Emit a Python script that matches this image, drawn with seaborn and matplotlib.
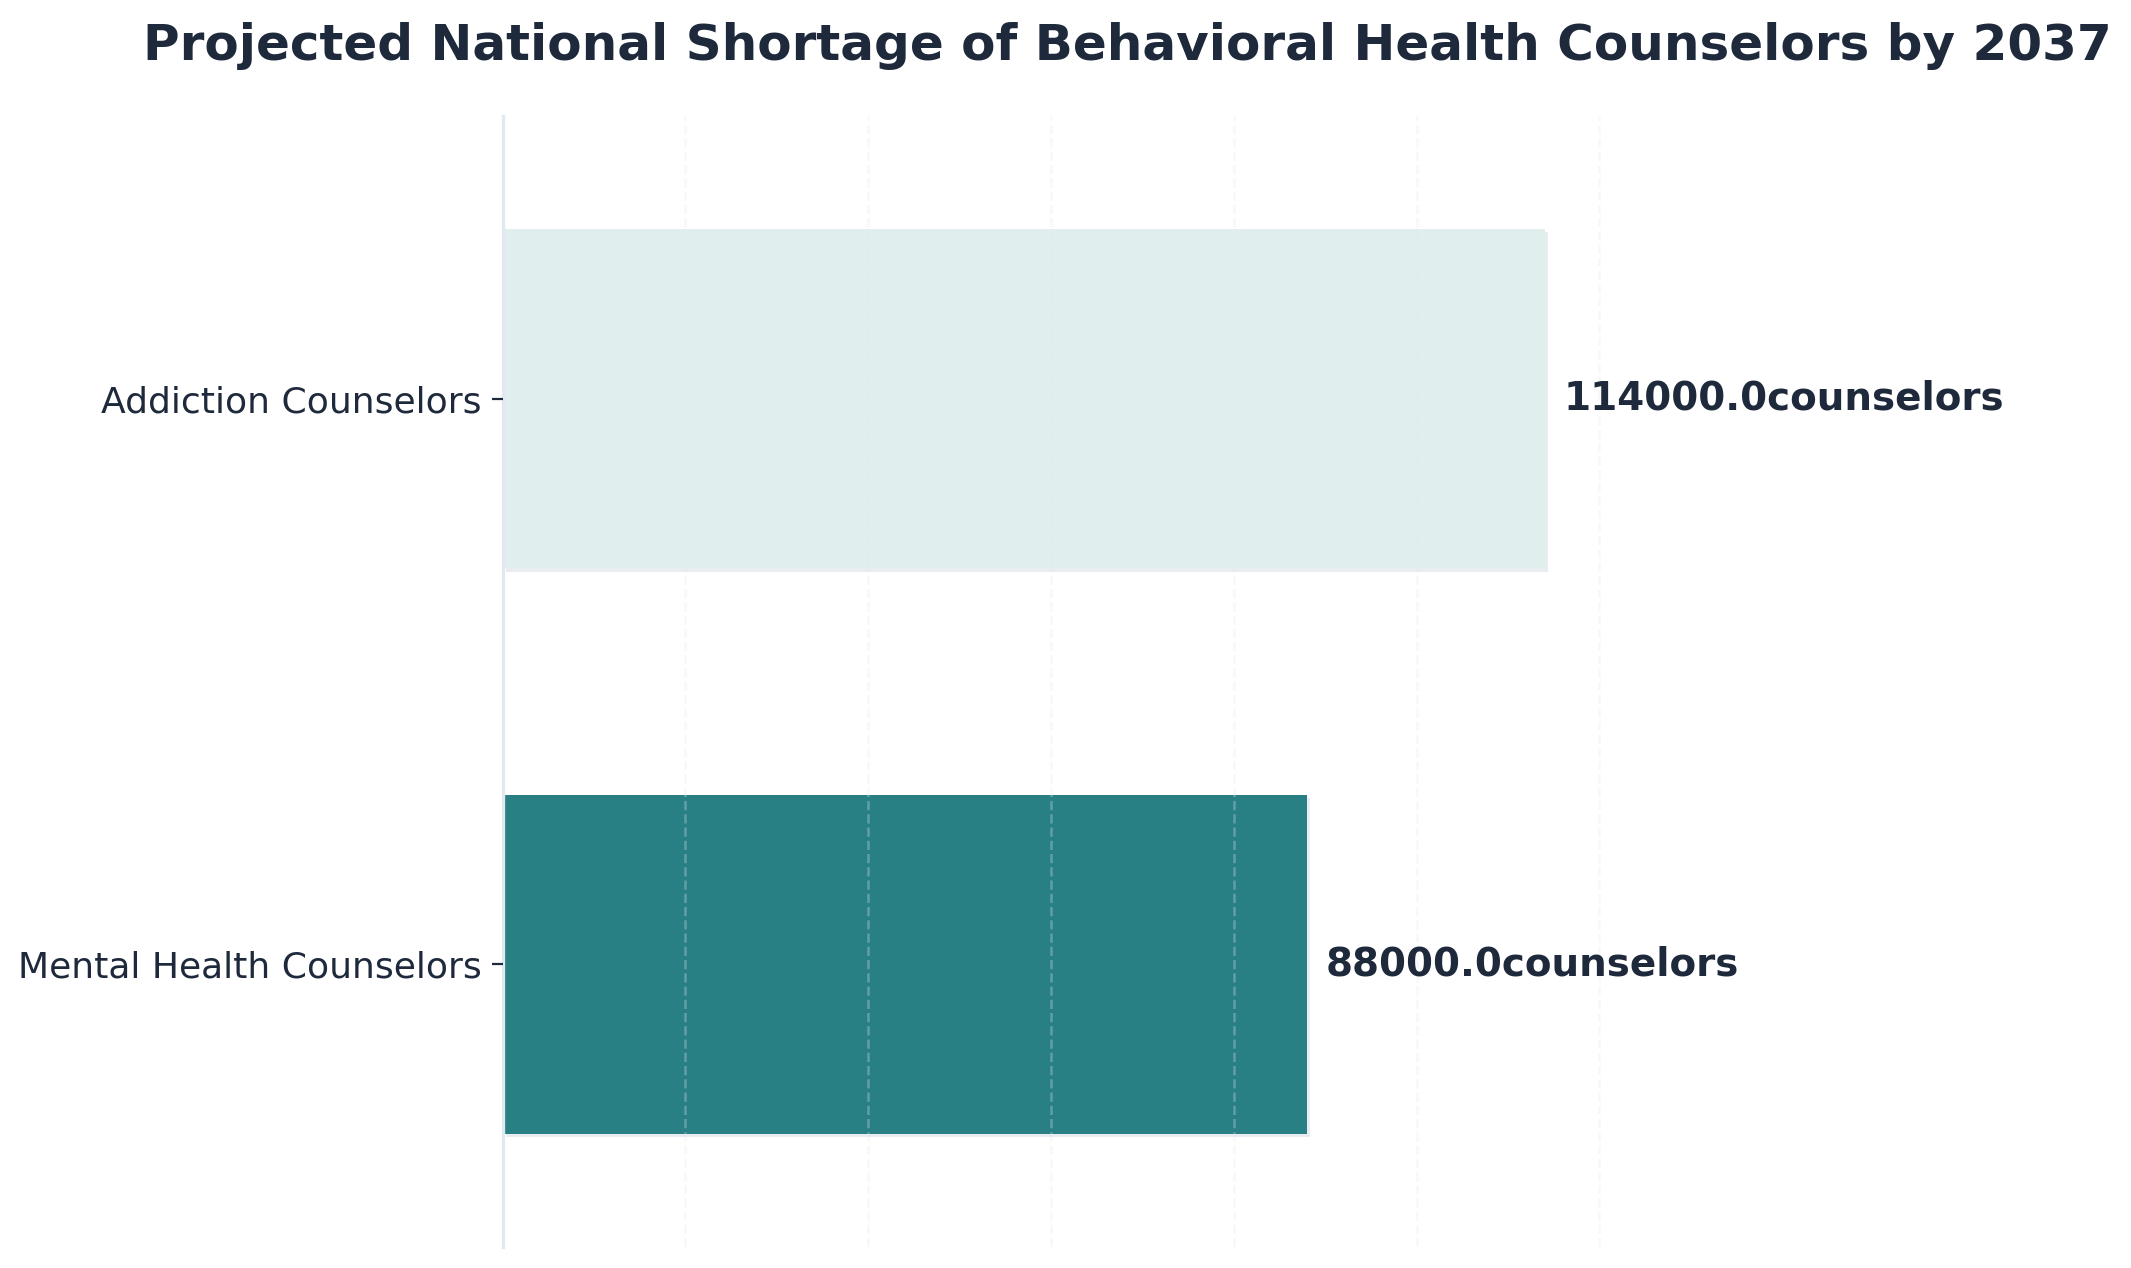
import matplotlib
matplotlib.use("Agg")
import matplotlib.pyplot as plt
import matplotlib.patheffects as pe
import seaborn as sns
import pandas as pd

categories = ["Addiction Counselors", "Mental Health Counselors"]
shortage = [114000.0, 88000.0]
bar_colors = ["#e0eeee", "#288085"]
unit = "counselors"

df = pd.DataFrame({"category": categories, "shortage": shortage})

sns.set_theme(style="white")
plt.rcParams["font.family"] = ["DejaVu Sans"]

text_color = "#1e293b"

fig = plt.figure(figsize=(10.655, 6.34), dpi=200)
ax = fig.add_axes([0.2359, 0.0166, 0.8226 - 0.2359, 0.9085 - 0.0166])

sns.barplot(data=df, x="shortage", y="category", hue="category",
            palette=dict(zip(categories, bar_colors)), legend=False,
            width=0.6, linewidth=0, saturation=1, ax=ax)

# faint drop shadow under the bars
for p in ax.patches:
    p.set_path_effects([pe.SimplePatchShadow(offset=(1.2, -1.2), shadow_rgbFace="#94a3b8", alpha=0.2),
                        pe.Normal()])

xmax = max(shortage) * 1.2
ax.set_xlim(0, xmax)
ax.set_ylim(1.5, -0.5)

offset = max(shortage) * 0.018
for i, v in enumerate(shortage):
    ax.text(v + offset, i, f"{v}{unit}", va="center", ha="left",
            fontsize=14, fontweight="bold", color=text_color)

ax.set_title("Projected National Shortage of Behavioral Health Counselors by 2037",
             fontsize=18, fontweight="bold", color=text_color, pad=20)

ax.set_xlabel("")
ax.set_ylabel("")
ax.set_xticks([20000, 40000, 60000, 80000, 100000, 120000])
ax.tick_params(axis="x", length=0, labelbottom=False)
ax.tick_params(axis="y", labelsize=13, colors=text_color, length=4, width=0.8, left=True)
ax.grid(axis="x", linestyle="--", color="#e2e8f0", alpha=0.3, linewidth=0.9)
ax.grid(axis="y", visible=False)
ax.set_axisbelow(False)

for s in ["top", "right", "bottom"]:
    ax.spines[s].set_visible(False)
ax.spines["left"].set_color("#e2e8f0")
ax.spines["left"].set_linewidth(1.2)

fig.savefig("out.png", dpi=200, facecolor="white")
